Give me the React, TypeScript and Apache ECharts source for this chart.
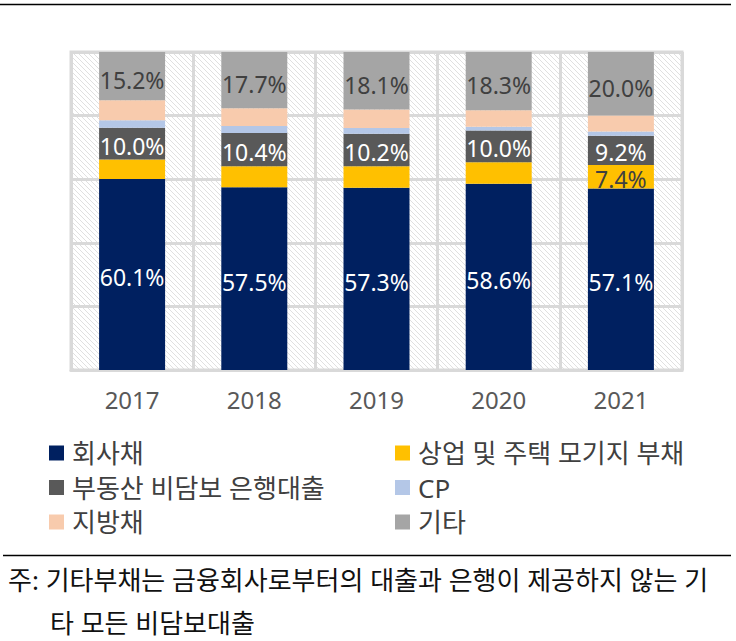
import React, { useEffect, useRef } from "react";
import * as echarts from "echarts";

// ---- data ----
const years = ["2017", "2018", "2019", "2020", "2021"];
const corporateBonds = [60.1, 57.5, 57.3, 58.6, 57.1];
const mortgageDebt = [6.1, 6.6, 6.8, 6.7, 7.4];
const unsecuredBankLoans = [10.0, 10.4, 10.2, 10.0, 9.2];
const commercialPaper = [2.3, 2.2, 1.8, 1.2, 1.3];
const municipalBonds = [6.3, 5.6, 5.8, 5.2, 5.0];
const otherDebt = [15.2, 17.7, 18.1, 18.3, 20.0];
const mortgageLabelYears = ["2021"];

const seriesNames = [
  "회사채",
  "상업 및 주택 모기지 부채",
  "부동산 비담보 은행대출",
  "CP",
  "지방채",
  "기타",
];
const noteLines = [
  "주: 기타부채는 금융회사로부터의 대출과 은행이 제공하지 않는 기",
  "타 모든 비담보대출",
];

const FONT = "'Noto Sans', 'Noto Sans CJK KR', sans-serif";

const hatchSvg =
  "<svg xmlns='http://www.w3.org/2000/svg' width='5' height='5'>" +
  "<path d='M-1 -1L6 6M-1 4L1 6M4 -1L6 1' stroke='#dcdcdc' stroke-width='0.9'/></svg>";

export default function App() {
  const ref = useRef<HTMLDivElement>(null);

  useEffect(() => {
    if (!ref.current) return;
    const chart = echarts.init(ref.current, null, { renderer: "svg" });

    const mkLabel = (color: string, dy: number) => ({
      show: true,
      position: "inside",
      color,
      fontSize: 23,
      lineHeight: 20,
      offset: [0, dy],
      fontFamily: FONT,
      formatter: (p: any) => Number(p.value).toFixed(1) + "%",
    });

    const hatch: any = {
      image: "data:image/svg+xml;charset=utf-8," + encodeURIComponent(hatchSvg),
      repeat: "repeat",
      imageWidth: 5,
      imageHeight: 5,
    };

    const legendBase = {
      orient: "vertical",
      top: 440,
      itemWidth: 15,
      itemHeight: 15,
      itemGap: 8.5,
      icon: "rect",
      padding: 0,
      selectedMode: false,
      textStyle: {
        fontSize: 26,
        color: "#404040",
        fontFamily: FONT,
        lineHeight: 26,
        padding: [0, 0, 0, 3],
      },
    };

    const option: any = {
      animation: false,
      grid: {
        left: 71,
        right: 54,
        top: 52,
        bottom: 271,
        show: true,
        backgroundColor: hatch,
        borderColor: "#d9d9d9",
        borderWidth: 3,
      },
      legend: [
        { ...legendBase, left: 49, data: [seriesNames[0], seriesNames[2], seriesNames[4]] },
        { ...legendBase, left: 395, data: [seriesNames[1], seriesNames[3], seriesNames[5]] },
      ],
      xAxis: {
        type: "category",
        data: years,
        axisLine: { show: true, lineStyle: { color: "#d9d9d9", width: 3 } },
        axisTick: { show: false },
        splitLine: { show: true, interval: 0, lineStyle: { color: "#d9d9d9", width: 3 } },
        axisLabel: { fontSize: 24, color: "#595959", margin: 17, fontFamily: FONT },
      },
      yAxis: {
        type: "value",
        min: 0,
        max: 100,
        interval: 20,
        axisLabel: { show: false },
        axisLine: { show: false },
        axisTick: { show: false },
        splitLine: { show: true, lineStyle: { color: "#d9d9d9", width: 3 } },
      },
      series: [
        {
          name: seriesNames[0],
          type: "bar",
          stack: "total",
          barWidth: 66,
          data: corporateBonds,
          itemStyle: { color: "#002060" },
          label: mkLabel("#ffffff", 3),
        },
        {
          name: seriesNames[1],
          type: "bar",
          stack: "total",
          barWidth: 66,
          data: mortgageDebt.map((v, i) =>
            mortgageLabelYears.includes(years[i]) ? { value: v, label: mkLabel("#404040", 2) } : v
          ),
          itemStyle: { color: "#FFC000" },
        },
        {
          name: seriesNames[2],
          type: "bar",
          stack: "total",
          barWidth: 66,
          data: unsecuredBankLoans,
          itemStyle: { color: "#595959" },
          label: mkLabel("#ffffff", 2),
        },
        {
          name: seriesNames[3],
          type: "bar",
          stack: "total",
          barWidth: 66,
          data: commercialPaper,
          itemStyle: { color: "#B4C7E7" },
        },
        {
          name: seriesNames[4],
          type: "bar",
          stack: "total",
          barWidth: 66,
          data: municipalBonds,
          itemStyle: { color: "#F8CBAD" },
        },
        {
          name: seriesNames[5],
          type: "bar",
          stack: "total",
          barWidth: 66,
          data: otherDebt,
          itemStyle: { color: "#A5A5A5" },
          label: mkLabel("#404040", 4),
        },
      ],
      graphic: [
        {
          type: "line",
          shape: { x1: 0, y1: 4.5, x2: 731, y2: 4.5 },
          style: { stroke: "#000000", lineWidth: 1.5 },
        },
        {
          type: "line",
          shape: { x1: 3, y1: 555.5, x2: 731, y2: 555.5 },
          style: { stroke: "#000000", lineWidth: 1.5 },
        },
        {
          type: "text",
          x: 8,
          y: 580,
          style: {
            text: noteLines[0],
            fontSize: 26,
            fontFamily: FONT,
            fill: "#111111",
            verticalAlign: "middle",
          },
        },
        {
          type: "text",
          x: 50,
          y: 623,
          style: {
            text: noteLines[1],
            fontSize: 26,
            fontFamily: FONT,
            fill: "#111111",
            verticalAlign: "middle",
          },
        },
      ],
    };

    chart.setOption(option);
    return () => chart.dispose();
  }, []);

  return (
    <div
      ref={ref}
      style={{ position: "absolute", left: 0, top: 0, width: 736, height: 641, background: "#ffffff" }}
    />
  );
}
